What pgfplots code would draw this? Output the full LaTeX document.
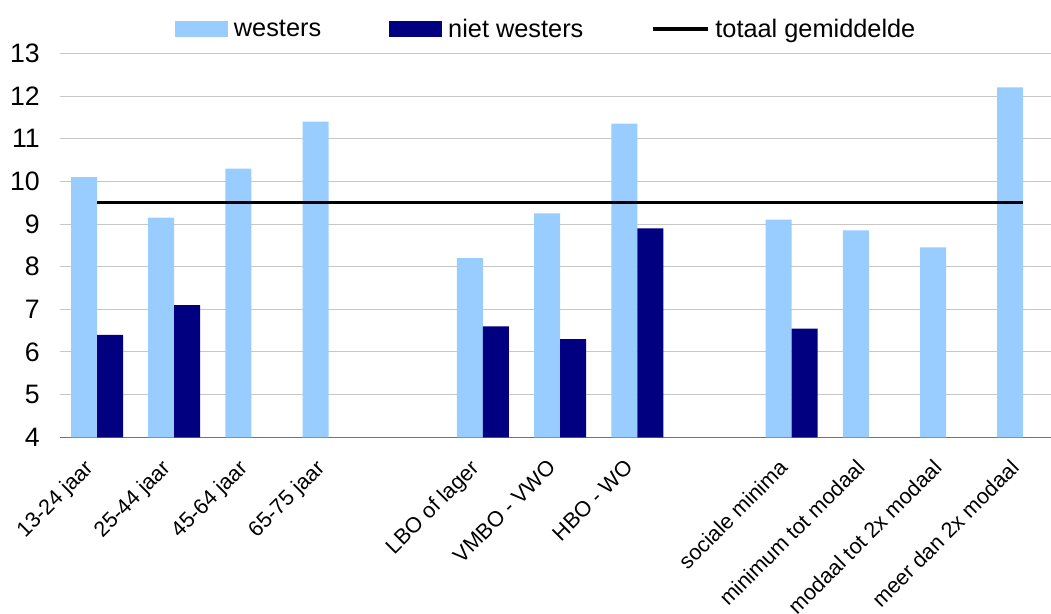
\documentclass[border=0pt]{standalone}
\usepackage{fontspec}
\setmainfont{Liberation Sans}
\usepackage{pgfplots}
\pgfplotsset{compat=1.18}
\definecolor{west}{RGB}{153,204,255}
\definecolor{nwest}{RGB}{0,0,128}
\begin{document}
\begin{tikzpicture}
\begin{axis}[
  name=ax,
  scale only axis,
  width=743.25pt, height=288pt,
  xmin=-0.48, xmax=12.36,
  ymin=4, ymax=13,
  ytick={4,...,13},
  xtick={0,1,2,3,5,6,7,9,10,11,12},
  xticklabels={13-24 jaar,25-44 jaar,45-64 jaar,65-75 jaar,LBO of lager,VMBO - VWO,HBO - WO,sociale minima,minimum tot modaal,modaal tot 2x modaal,meer dan 2x modaal},
  major tick length=0pt,
  ymajorgrids,
  grid style={draw=black!22, line width=0.75pt},
  axis x line*=bottom, axis y line*=left,
  x axis line style={-, draw=black!55, line width=1.1pt},
  y axis line style={draw=none},
  /pgf/number format/assume math mode=true,
  yticklabel style={font=\fontsize{20}{24}\selectfont, inner sep=0pt, xshift=-15pt},
  xticklabel style={font=\fontsize{16.2}{20}\selectfont, inner sep=0pt, xshift=-10.5pt, yshift=-15.5pt, rotate=45, anchor=north east},
  legend columns=-1,
  legend style={draw=none, fill=none, inner sep=0pt, outer sep=0pt,
    at={(axis description cs:0.116,1.063)}, anchor=west,
    font=\fontsize{19}{23}\selectfont,
    nodes={inner sep=0pt},
    /tikz/every even column/.append style={column sep=51pt},
    /tikz/every odd column/.append style={column sep=4.5pt}},
]
\addplot[ybar, bar width=0.337, bar shift=-0.1685, fill=west, draw=none,
  legend image code/.code={\fill[west] (0pt,-6pt) rectangle (39.75pt,6pt);}]
  coordinates {
  (0,10.1) (1,9.15) (2,10.3) (3,11.4)
  (5,8.2) (6,9.25) (7,11.35)
  (9,9.1) (10,8.85) (11,8.45) (12,12.2)
};
\addlegendentry{westers}
\addplot[ybar, bar width=0.337, bar shift=0.1685, fill=nwest, draw=none,
  legend image code/.code={\fill[nwest] (0pt,-6pt) rectangle (39.75pt,6pt);}]
  coordinates {
  (0,6.4) (1,7.1)
  (5,6.6) (6,6.3) (7,8.9)
  (9,6.55)
};
\addlegendentry{niet westers}
\addplot[black, line width=2.6pt, mark=none,
  legend image code/.code={\draw[black, line width=2.5pt] (0pt,0pt) -- (41pt,0pt);}]
  coordinates {(0,9.5) (12,9.5)};
\addlegendentry{totaal gemiddelde}
\end{axis}
\pgfresetboundingbox
\path[use as bounding box] ([shift={(-45pt,-131.8pt)}]ax.south west) rectangle ([shift={(0pt,40pt)}]ax.north east);
\end{tikzpicture}
\end{document}
